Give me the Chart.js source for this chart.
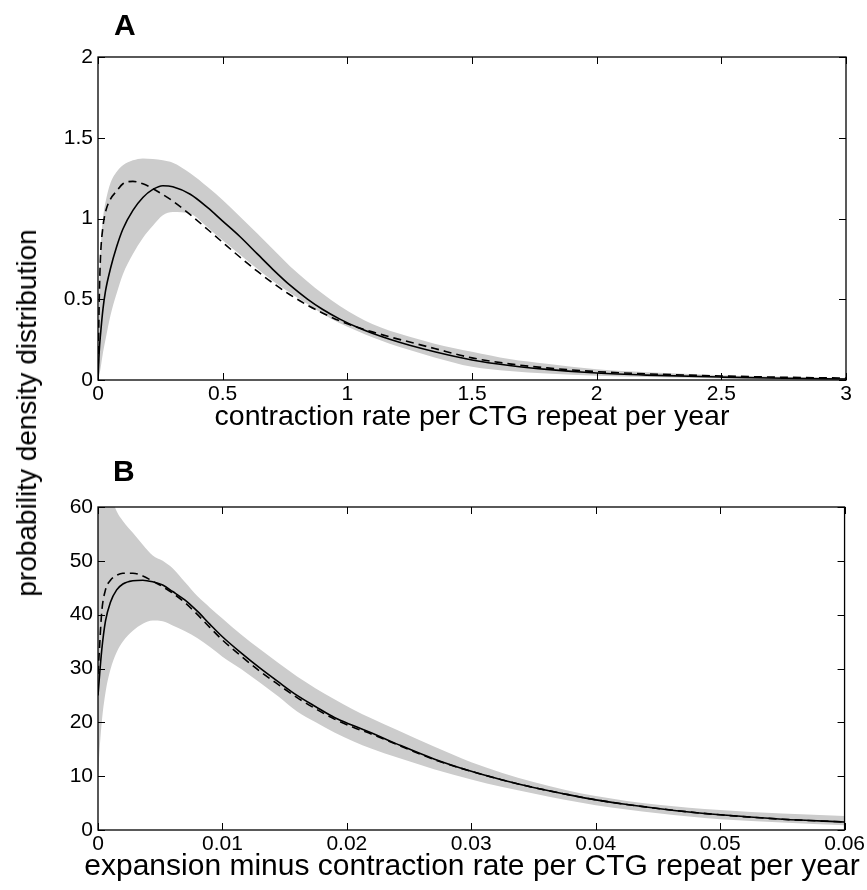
<!DOCTYPE html>
<html><head><meta charset="utf-8">
<script src="https://cdn.jsdelivr.net/npm/chart.js@4.4.1/dist/chart.umd.min.js"></script>
<style>
html,body{margin:0;padding:0;background:#fff;overflow:hidden;width:867px;height:890px;}
canvas{position:absolute;left:0;}
#cA{top:0px} #cB{top:450px}
.lbl{position:absolute;font-family:"Liberation Sans",Arial,Helvetica,sans-serif;color:#000;white-space:nowrap;}
</style></head><body>
<canvas id="cA" width="867" height="440"></canvas>
<canvas id="cB" width="867" height="440"></canvas>
<div class="lbl" style="left:114px;top:10px;font-size:30px;font-weight:bold;line-height:30px">A</div>
<div class="lbl" style="left:113px;top:456px;font-size:30px;font-weight:bold;line-height:30px">B</div>
<div class="lbl" id="ytitle" style="left:27px;top:413px;font-size:28px;line-height:28px;transform:translate(-50%,-50%) rotate(-90deg);">probability density distribution</div>
<div class="lbl" id="xtitleB" style="left:472px;top:850px;font-size:30px;line-height:30px;transform:translateX(-50%);"></div>
<script>
// ---------- Panel A data ----------
const xA = [0, 0.005, 0.01, 0.02, 0.03, 0.05, 0.075, 0.1, 0.14, 0.18, 0.22, 0.26, 0.3, 0.37, 0.44, 0.5, 0.57, 0.64, 0.7, 0.77, 0.84, 0.9, 0.97, 1.04, 1.1, 1.17, 1.25, 1.35, 1.5, 1.65, 1.8, 2.0, 2.2, 2.5, 2.75, 3.0];
const solidA = [0, 0.18, 0.28, 0.44, 0.55, 0.69, 0.826, 0.935, 1.05, 1.13, 1.18, 1.203, 1.197, 1.15, 1.067, 0.984, 0.887, 0.779, 0.687, 0.587, 0.501, 0.438, 0.377, 0.326, 0.289, 0.252, 0.215, 0.175, 0.124, 0.09, 0.066, 0.043, 0.03, 0.018, 0.011, 0.006];
const dashedA = [0, 0.5, 0.76, 0.95, 1.04, 1.12, 1.17, 1.215, 1.23, 1.215, 1.185, 1.148, 1.108, 1.024, 0.932, 0.852, 0.76, 0.672, 0.602, 0.528, 0.463, 0.415, 0.366, 0.327, 0.298, 0.267, 0.235, 0.195, 0.137, 0.1, 0.075, 0.052, 0.038, 0.025, 0.017, 0.012];
const bandLowA = [0, 0.03, 0.07, 0.17, 0.25, 0.40, 0.537, 0.655, 0.78, 0.88, 0.955, 1.02, 1.04, 1.03, 0.945, 0.865, 0.775, 0.687, 0.615, 0.54, 0.47, 0.41, 0.352, 0.303, 0.265, 0.225, 0.185, 0.14, 0.082, 0.056, 0.04, 0.027, 0.018, 0.01, 0.005, 0.002];
const bandHighA = [0, 0.55, 0.8, 1.0, 1.1, 1.22, 1.29, 1.33, 1.36, 1.372, 1.368, 1.36, 1.345, 1.28, 1.195, 1.115, 1.011, 0.905, 0.812, 0.705, 0.61, 0.535, 0.458, 0.393, 0.347, 0.305, 0.268, 0.225, 0.175, 0.13, 0.1, 0.066, 0.048, 0.03, 0.02, 0.012];
const xTicksA = [0, 0.5, 1, 1.5, 2, 2.5, 3];
const xTickLabelsA = ["0", "0.5", "1", "1.5", "2", "2.5", "3"];
const yTicksA = [0, 0.5, 1, 1.5, 2];
const yTickLabelsA = ["0", "0.5", "1", "1.5", "2"];
const xTitleA = "contraction rate per CTG repeat per year";

// ---------- Panel B data ----------
const xB = [0, 0.0001, 0.0003, 0.0006, 0.001, 0.0015, 0.002, 0.0028, 0.0036, 0.0044, 0.0052, 0.006, 0.007, 0.008, 0.009, 0.01, 0.0115, 0.013, 0.0145, 0.016, 0.0175, 0.019, 0.0205, 0.022, 0.024, 0.027, 0.03, 0.0325, 0.035, 0.0375, 0.04, 0.0425, 0.045, 0.0475, 0.05, 0.055, 0.06];
const solidB = [25, 28, 33.4, 38.8, 42.3, 44.6, 45.7, 46.3, 46.4, 46.1, 45.5, 44.3, 42.7, 40.6, 38.2, 35.9, 32.9, 30.1, 27.5, 25.0, 22.9, 20.9, 19.4, 18.0, 16.0, 13.2, 10.9, 9.3, 7.9, 6.7, 5.6, 4.75, 4.0, 3.35, 2.82, 2.0, 1.5];
const dashedB = [29, 33, 40.5, 44.6, 46.4, 47.3, 47.7, 47.7, 47.2, 46.2, 45.2, 44.0, 42.2, 40.0, 37.6, 35.3, 32.3, 29.5, 27.0, 24.6, 22.5, 20.6, 19.1, 17.8, 15.9, 13.1, 10.9, 9.3, 7.9, 6.7, 5.6, 4.75, 4.0, 3.35, 2.82, 2.0, 1.5];
const bandLowB = [10, 14, 20, 25.5, 29.8, 33.0, 35.0, 37.0, 38.3, 38.9, 38.8, 38.0, 36.9, 35.6, 34.0, 32.2, 29.9, 27.4, 24.8, 22.0, 20.0, 18.1, 16.5, 15.1, 13.5, 11.3, 9.4, 8.0, 6.8, 5.6, 4.6, 3.8, 3.1, 2.5, 2.0, 1.4, 0.9];
const bandHighB = [80, 75, 70, 66, 62.5, 59.2, 57.4, 55.2, 53.0, 51.0, 50.0, 48.6, 46.0, 43.4, 41.3, 39.3, 36.3, 33.6, 31.0, 28.5, 26.3, 24.3, 22.4, 20.7, 18.6, 15.5, 12.6, 10.6, 8.9, 7.5, 6.3, 5.4, 4.7, 4.15, 3.7, 3.05, 2.6];
const xTicksB = [0, 0.01, 0.02, 0.03, 0.04, 0.05, 0.06];
const xTickLabelsB = ["0", "0.01", "0.02", "0.03", "0.04", "0.05", "0.06"];
const yTicksB = [0, 10, 20, 30, 40, 50, 60];
const yTickLabelsB = ["0", "10", "20", "30", "40", "50", "60"];
const xTitleB = "expansion minus contraction rate per CTG repeat per year";

const FONT = '"Liberation Sans", Arial, Helvetica, sans-serif';

const frameTicks = {
  id: 'frameTicks',
  afterDatasetsDraw(chart) {
    const {ctx, chartArea: a, scales: {x, y}} = chart;
    ctx.save();
    ctx.strokeStyle = '#000';
    ctx.lineWidth = 1.3;
    ctx.strokeRect(a.left, a.top, a.right - a.left, a.bottom - a.top);
    ctx.lineWidth = 1;
    const L = 7;
    ctx.beginPath();
    x.ticks.forEach(t => {
      const px = Math.round(x.getPixelForValue(t.value)) + 0.5;
      ctx.moveTo(px, a.bottom); ctx.lineTo(px, a.bottom - L);
      ctx.moveTo(px, a.top); ctx.lineTo(px, a.top + L);
    });
    y.ticks.forEach(t => {
      const py = Math.round(y.getPixelForValue(t.value)) + 0.5;
      ctx.moveTo(a.left, py); ctx.lineTo(a.left + L, py);
      ctx.moveTo(a.right, py); ctx.lineTo(a.right - L, py);
    });
    ctx.stroke();
    ctx.restore();
  }
};

function pts(xs, ys) { return xs.map((v, i) => ({x: v, y: ys[i]})); }

function makeChart(id, xs, solid, dashed, low, high, xt, xl, yt, yl, xmax, ymax, xtitle, titleSize) {
  return new Chart(document.getElementById(id), {
    type: 'line',
    data: {
      datasets: [
        {data: pts(xs, low), order: 3, borderWidth: 0, pointRadius: 0, fill: false, cubicInterpolationMode: 'monotone', borderColor: 'rgba(0,0,0,0)'},
        {data: pts(xs, high), order: 2, borderWidth: 0, pointRadius: 0, fill: '-1', backgroundColor: '#cccccc', cubicInterpolationMode: 'monotone', borderColor: 'rgba(0,0,0,0)'},
        {data: pts(xs, solid), order: 0, borderWidth: 1.6, borderColor: '#000', pointRadius: 0, fill: false, cubicInterpolationMode: 'monotone'},
        {data: pts(xs, dashed), order: 1, borderWidth: 1.6, borderColor: '#000', borderDash: [8, 5], pointRadius: 0, fill: false, cubicInterpolationMode: 'monotone'}
      ]
    },
    options: {
      responsive: false,
      animation: false,
      events: [],
      layout: {padding: {left: 0, top: 57, right: 21, bottom: 0}},
      plugins: {legend: {display: false}, tooltip: {enabled: false}},
      scales: {
        x: {
          type: 'linear', min: 0, max: xmax,
          afterBuildTicks: s => { s.ticks = xt.map(v => ({value: v})); },
          afterFit: s => { s.height = 60; },
          grid: {display: false, drawTicks: false},
          border: {display: false},
          ticks: {callback: (v, i) => xl[i], color: '#000', font: {family: FONT, size: 21}, padding: 2, maxRotation: 0, autoSkip: false},
          title: {display: !!xtitle, text: xtitle || '', color: '#000', font: {family: FONT, size: titleSize}, padding: {top: 0, bottom: 6}}
        },
        y: {
          type: 'linear', min: 0, max: ymax,
          afterBuildTicks: s => { s.ticks = yt.map(v => ({value: v})); },
          afterFit: s => { s.width = 98; },
          grid: {display: false, drawTicks: false},
          border: {display: false},
          ticks: {callback: (v, i) => yl[i], color: '#000', font: {family: FONT, size: 21}, padding: 5, autoSkip: false}
        }
      }
    },
    plugins: [frameTicks]
  });
}

makeChart('cA', xA, solidA, dashedA, bandLowA, bandHighA, xTicksA, xTickLabelsA, yTicksA, yTickLabelsA, 3, 2, xTitleA, 28.5);
makeChart('cB', xB, solidB, dashedB, bandLowB, bandHighB, xTicksB, xTickLabelsB, yTicksB, yTickLabelsB, 0.06, 60, null, 30);
// Panel B's axis title is wider than its plot area in the original, so it is placed as page text
document.getElementById('xtitleB').textContent = xTitleB;
</script>
</body></html>
